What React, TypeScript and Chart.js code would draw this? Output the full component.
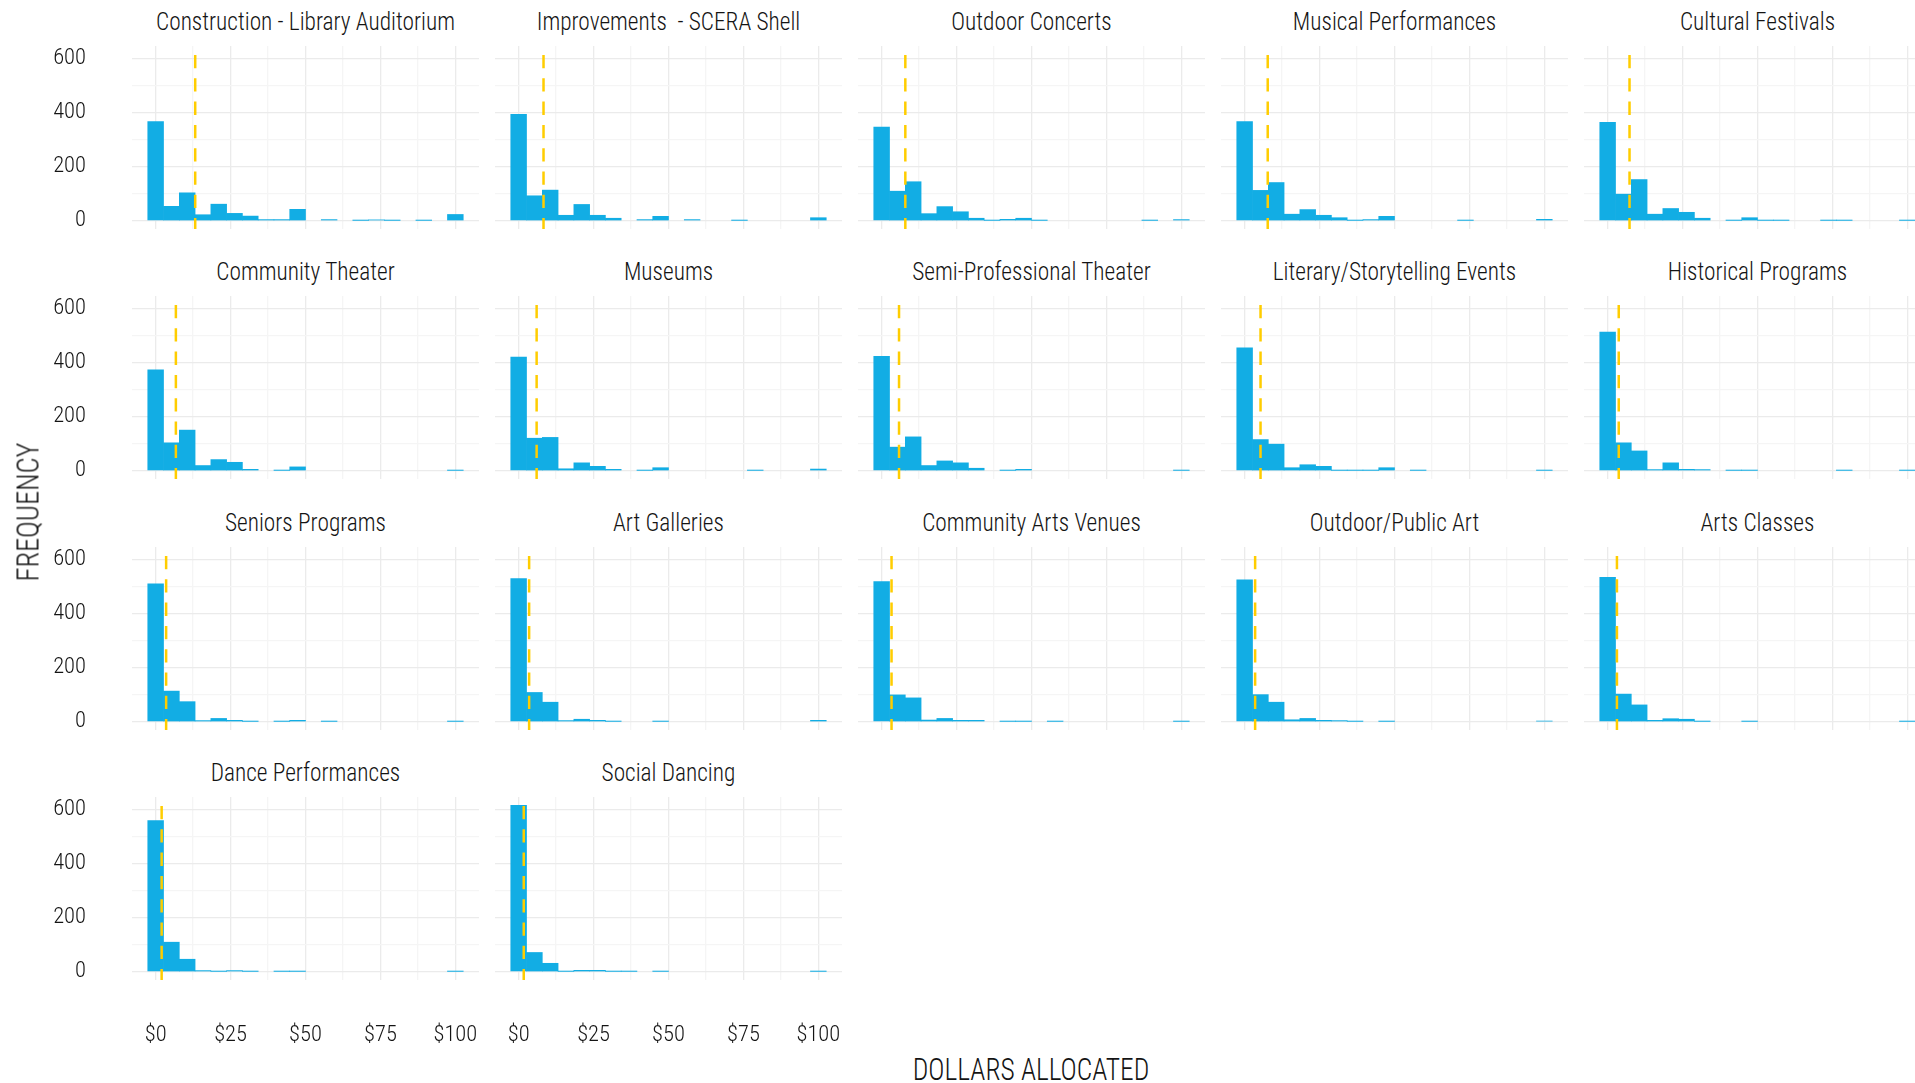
import React, { useEffect, useRef } from 'react';
import { Chart, registerables } from 'chart.js';

Chart.register(...registerables);

// ---------- data ----------
const binCenters = [0, 5.26, 10.53, 15.79, 21.05, 26.32, 31.58, 36.84, 42.11, 47.37, 52.63, 57.89, 63.16, 68.42, 73.68, 78.95, 84.21, 89.47, 94.74, 100];
const xTickValues = [0, 12.5, 25, 37.5, 50, 62.5, 75, 87.5, 100];
const yTickValues = [0, 100, 200, 300, 400, 500, 600];

const panelTitles = [
  'Construction - Library Auditorium',
  'Improvements  - SCERA Shell',
  'Outdoor Concerts',
  'Musical Performances',
  'Cultural Festivals',
  'Community Theater',
  'Museums',
  'Semi-Professional Theater',
  'Literary/Storytelling Events',
  'Historical Programs',
  'Seniors Programs',
  'Art Galleries',
  'Community Arts Venues',
  'Outdoor/Public Art',
  'Arts Classes',
  'Dance Performances',
  'Social Dancing',
];

const constructionLibrary = [366, 53, 103, 22, 61, 27, 17, 4, 4, 42, 0, 4, 0, 1, 3, 1, 0, 1, 0, 23];
const improvementsScera = [393, 92, 113, 20, 60, 20, 9, 0, 4, 16, 0, 4, 0, 0, 1, 0, 0, 0, 0, 11];
const outdoorConcerts = [346, 109, 144, 26, 52, 33, 9, 1, 5, 9, 1, 0, 0, 0, 0, 0, 0, 1, 0, 4];
const musicalPerformances = [366, 112, 141, 24, 41, 20, 11, 1, 4, 16, 0, 0, 0, 0, 1, 0, 0, 0, 0, 5];
const culturalFestivals = [364, 98, 152, 24, 45, 31, 9, 0, 1, 11, 1, 1, 0, 0, 1, 1, 0, 0, 0, 1];
const communityTheater = [373, 103, 150, 19, 41, 31, 5, 0, 1, 14, 0, 0, 0, 0, 0, 0, 0, 0, 0, 1];
const museums = [420, 120, 123, 7, 29, 16, 5, 0, 1, 11, 0, 0, 0, 0, 0, 1, 0, 0, 0, 6];
const semiProTheater = [423, 87, 125, 19, 36, 29, 9, 0, 1, 5, 0, 0, 0, 0, 0, 0, 0, 0, 0, 1];
const literaryEvents = [454, 115, 98, 11, 22, 16, 1, 1, 1, 11, 0, 1, 0, 0, 0, 0, 0, 0, 0, 1];
const historicalPrograms = [512, 103, 73, 4, 29, 5, 4, 0, 1, 1, 0, 0, 0, 0, 0, 1, 0, 0, 0, 1];
const seniorsPrograms = [510, 113, 74, 4, 12, 5, 1, 0, 1, 5, 0, 1, 0, 0, 0, 0, 0, 0, 0, 1];
const artGalleries = [529, 108, 72, 4, 9, 5, 1, 0, 0, 1, 0, 0, 0, 0, 0, 0, 0, 0, 0, 5];
const communityArtsVenues = [518, 99, 88, 6, 12, 5, 5, 0, 1, 1, 0, 1, 0, 0, 0, 0, 0, 0, 0, 1];
const outdoorPublicArt = [524, 100, 72, 7, 12, 5, 4, 1, 0, 1, 0, 0, 0, 0, 0, 0, 0, 0, 0, 2];
const artsClasses = [534, 102, 62, 5, 11, 9, 1, 0, 0, 1, 0, 0, 0, 0, 0, 0, 0, 0, 0, 1];
const dancePerformances = [559, 109, 46, 4, 1, 4, 1, 0, 1, 1, 0, 0, 0, 0, 0, 0, 0, 0, 0, 1];
const socialDancing = [615, 71, 31, 1, 5, 5, 1, 1, 0, 1, 0, 0, 0, 0, 0, 0, 0, 0, 0, 1];

const panelCounts = [
  constructionLibrary, improvementsScera, outdoorConcerts, musicalPerformances, culturalFestivals,
  communityTheater, museums, semiProTheater, literaryEvents, historicalPrograms,
  seniorsPrograms, artGalleries, communityArtsVenues, outdoorPublicArt, artsClasses,
  dancePerformances, socialDancing,
];

const meanValues = [13.2, 8.3, 7.9, 7.7, 7.3, 6.75, 6.0, 5.8, 5.3, 3.7, 3.5, 3.5, 3.3, 3.5, 3.1, 2.0, 1.7];

// ---------- layout / style ----------
const X_MIN = -7.89;
const X_MAX = 107.89;
const Y_MIN = -30.75;
const Y_MAX = 645.75;

const COL_LEFT = [132, 495, 858, 1221, 1584];
const ROW_TOP = [46, 296, 547, 797];
const PW = 347;
const PH = 183;
const X_AXIS_H = 80;

const FONT = "'Roboto Condensed', 'Open Sans', sans-serif";
const FONT_WEIGHT = 300;
const BAR_COLOR = '#12ADE4';
const MEAN_COLOR = '#FFCD00';
const GRID_MAJOR = '#EBEBEB';
const GRID_MINOR = '#F5F5F5';
const TEXT_COLOR = '#141414';

function Panel({ index }: { index: number }) {
  const ref = useRef<HTMLCanvasElement | null>(null);
  const r = Math.floor(index / 5);
  const c = index % 5;
  const showY = c === 0;
  const showX = r === 3;
  const left = showY ? 0 : COL_LEFT[c];
  const width = showY ? COL_LEFT[0] + PW : PW;
  const height = PH + (showX ? X_AXIS_H : 0);

  useEffect(() => {
    if (!ref.current) return;
    const counts = panelCounts[index];
    const mean = meanValues[index];
    const chart = new Chart(ref.current, {
      type: 'bar',
      data: {
        datasets: [
          {
            type: 'line',
            data: [
              { x: mean, y: Y_MAX },
              { x: mean, y: Y_MIN },
            ],
            borderColor: MEAN_COLOR,
            borderWidth: 2.5,
            borderDash: [13.3, 10],
            borderDashOffset: 14.3,
            pointRadius: 0,
            order: 0,
          } as any,
          {
            type: 'bar',
            data: binCenters.map((x, i) => ({ x, y: counts[i] === 0 ? null : counts[i] })),
            backgroundColor: BAR_COLOR,
            borderWidth: 0,
            barPercentage: 1,
            categoryPercentage: 1,
            order: 1,
          } as any,
        ],
      },
      options: {
        responsive: false,
        animation: false,
        devicePixelRatio: 1,
        events: [],
        layout: { padding: 0 },
        plugins: { legend: { display: false }, tooltip: { enabled: false }, title: { display: false } },
        scales: {
          x: {
            type: 'linear',
            min: X_MIN,
            max: X_MAX,
            offset: false,
            afterBuildTicks: (s: any) => {
              s.ticks = xTickValues.map((v) => ({ value: v }));
            },
            afterFit: (s: any) => {
              s.height = showX ? X_AXIS_H : 0;
              s.paddingLeft = 0;
              s.paddingRight = 0;
              s.paddingTop = 0;
              s.paddingBottom = 0;
            },
            border: { display: false },
            grid: {
              offset: false,
              drawTicks: false,
              lineWidth: 1.3,
              color: (ctx: any) => (ctx.tick && ctx.tick.value % 25 === 0 ? GRID_MAJOR : GRID_MINOR),
            },
            ticks: {
              display: showX,
              autoSkip: false,
              maxRotation: 0,
              padding: 42,
              color: TEXT_COLOR,
              font: { family: FONT, size: 22.5, weight: FONT_WEIGHT },
              callback: (v: any) => (Number(v) % 25 === 0 ? '$' + v : ''),
            },
          },
          y: {
            type: 'linear',
            min: Y_MIN,
            max: Y_MAX,
            afterBuildTicks: (s: any) => {
              s.ticks = yTickValues.map((v) => ({ value: v }));
            },
            afterFit: (s: any) => {
              s.width = showY ? COL_LEFT[0] : 0;
              s.paddingLeft = 0;
              s.paddingRight = 0;
              s.paddingTop = 0;
              s.paddingBottom = 0;
            },
            border: { display: false },
            grid: {
              drawTicks: false,
              lineWidth: 1.3,
              color: (ctx: any) => (ctx.tick && ctx.tick.value % 200 === 0 ? GRID_MAJOR : GRID_MINOR),
            },
            ticks: {
              display: showY,
              autoSkip: false,
              padding: 46,
              color: TEXT_COLOR,
              font: { family: FONT, size: 22.5, weight: FONT_WEIGHT },
              callback: (v: any) => (Number(v) % 200 === 0 ? String(v) : ''),
            },
          },
        },
      } as any,
    });
    return () => chart.destroy();
  }, [index]);

  return (
    <>
      <div
        style={{
          position: 'absolute',
          left: COL_LEFT[c],
          width: PW,
          top: ROW_TOP[r] - 40,
          height: 30,
          lineHeight: '30px',
          textAlign: 'center',
          fontFamily: FONT,
          fontWeight: FONT_WEIGHT,
          fontSize: 26.5,
          color: TEXT_COLOR,
          whiteSpace: 'pre',
          transform: 'scaleX(0.88)',
          transformOrigin: 'center center',
        }}
      >
        {panelTitles[index]}
      </div>
      <canvas
        ref={ref}
        width={width}
        height={height}
        style={{ position: 'absolute', left, top: ROW_TOP[r], width, height }}
      />
    </>
  );
}

export default function App() {
  return (
    <div
      style={{
        position: 'fixed',
        left: 0,
        top: 0,
        width: 1915,
        height: 1083,
        overflow: 'hidden',
        background: '#ffffff',
      }}
    >
      {panelTitles.map((_, i) => (
        <Panel key={i} index={i} />
      ))}
      <div
        style={{
          position: 'absolute',
          left: 28,
          top: 512,
          transform: 'translate(-50%, -50%) rotate(-90deg) scaleX(0.914)',
          fontFamily: FONT,
          fontWeight: FONT_WEIGHT,
          fontSize: 31,
          color: TEXT_COLOR,
          whiteSpace: 'nowrap',
          lineHeight: 1,
        }}
      >
        FREQUENCY
      </div>
      <div
        style={{
          position: 'absolute',
          left: 1031,
          top: 1069,
          transform: 'translate(-50%, -50%) scaleX(0.886)',
          fontFamily: FONT,
          fontWeight: FONT_WEIGHT,
          fontSize: 31,
          color: TEXT_COLOR,
          whiteSpace: 'nowrap',
          lineHeight: 1,
        }}
      >
        DOLLARS ALLOCATED
      </div>
    </div>
  );
}
